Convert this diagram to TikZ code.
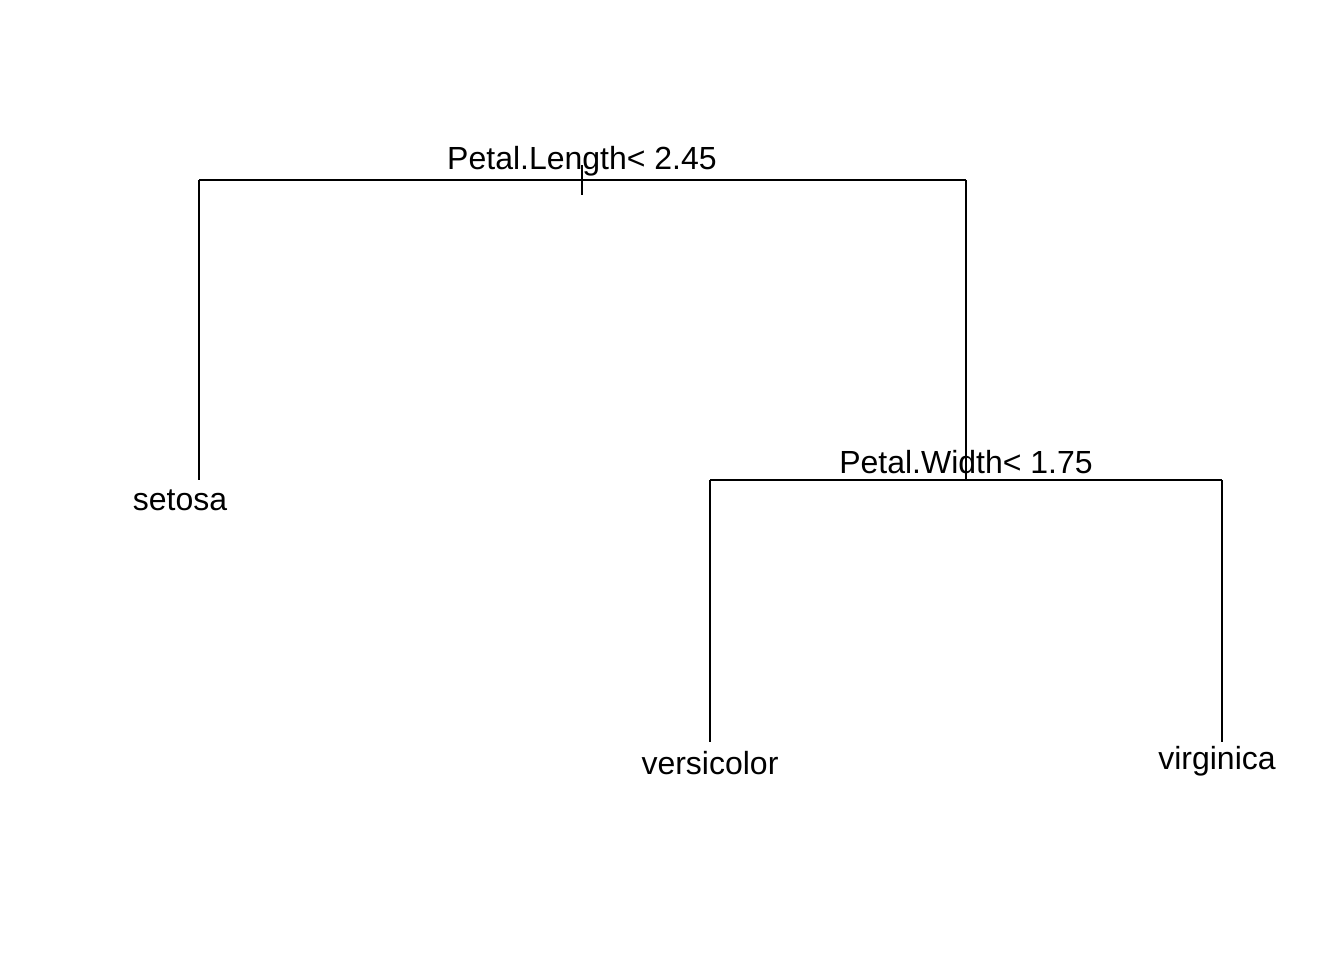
\documentclass[tikz,border=0pt]{standalone}
\usepackage{fontspec}
\setmainfont{Liberation Sans}
\begin{document}
\begin{tikzpicture}[x=1pt,y=-1pt,
  edge/.style={draw=black,line width=1.5pt,line cap=butt},
  lbl/.style={anchor=base,inner sep=0pt,font=\fontsize{32}{38}\selectfont,text=black}]
\useasboundingbox[fill=white] (0,0) rectangle (1344,960);
% split points
\coordinate (root) at (582,180);
\coordinate (rootL) at (199,180);
\coordinate (rootR) at (966,180);
\coordinate (rootTickTop) at (582,165);
\coordinate (rootTickBot) at (582,195);
\coordinate (pw) at (966,480);
\coordinate (pwL) at (710,480);
\coordinate (pwR) at (1222,480);
\coordinate (setosaEnd) at (199,480);
\coordinate (versEnd) at (710,742);
\coordinate (virgEnd) at (1222,742);
% labels
\node[lbl] (lroot) at (582,170) {Petal.Length< 2.45};
\node[lbl] (lpw) at (966,473) {Petal.Width< 1.75};
\node[lbl] (setosa) at (180,510) {setosa};
\node[lbl] (versicolor) at (710,774) {versicolor};
\node[lbl] (virginica) at (1217,769) {virginica};
% connectors
\draw[edge] (rootL) -- (rootR);
\draw[edge] (rootTickTop) -- (rootTickBot);
\draw[edge] (rootL) -- (setosaEnd);
\draw[edge] (rootR) -- (pw);
\draw[edge] (pwL) -- (pwR);
\draw[edge] (pwL) -- (versEnd);
\draw[edge] (pwR) -- (virgEnd);
\end{tikzpicture}
\end{document}
